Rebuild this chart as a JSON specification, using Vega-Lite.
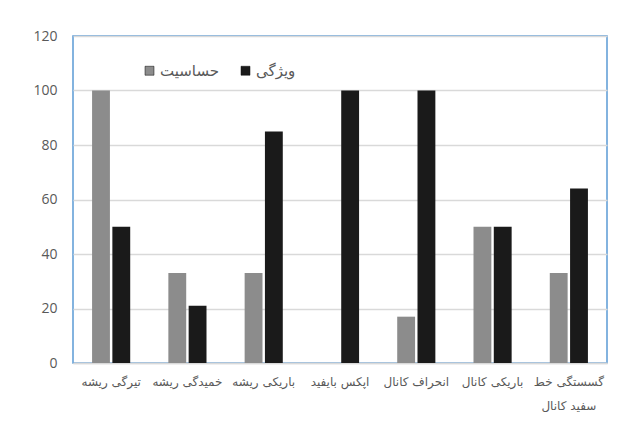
{
  "$schema": "https://vega.github.io/schema/vega-lite/v6.json",
  "autosize": "none",
  "width": 534,
  "height": 327,
  "padding": {"left": 73, "top": 36, "right": 19, "bottom": 58},
  "background": "white",
  "data": {
    "values": [
      {"cat": "تیرگی ریشه", "series": "حساسیت", "value": 100},
      {"cat": "تیرگی ریشه", "series": "ویژگی", "value": 50},
      {"cat": "خمیدگی ریشه", "series": "حساسیت", "value": 33},
      {"cat": "خمیدگی ریشه", "series": "ویژگی", "value": 21},
      {"cat": "باریکی ریشه", "series": "حساسیت", "value": 33},
      {"cat": "باریکی ریشه", "series": "ویژگی", "value": 85},
      {"cat": "اپکس بایفید", "series": "حساسیت", "value": 0},
      {"cat": "اپکس بایفید", "series": "ویژگی", "value": 100},
      {"cat": "انحراف کانال", "series": "حساسیت", "value": 17},
      {"cat": "انحراف کانال", "series": "ویژگی", "value": 100},
      {"cat": "باریکی کانال", "series": "حساسیت", "value": 50},
      {"cat": "باریکی کانال", "series": "ویژگی", "value": 50},
      {"cat": "گسستگی خط سفید کانال", "series": "حساسیت", "value": 33},
      {"cat": "گسستگی خط سفید کانال", "series": "ویژگی", "value": 64}
    ]
  },
  "mark": {"type": "bar"},
  "encoding": {
    "x": {
      "field": "cat",
      "type": "nominal",
      "sort": null,
      "title": null,
      "scale": {"paddingInner": 0.5, "paddingOuter": 0.25},
      "axis": {
        "labelAngle": 0,
        "labelFont": "DejaVu Sans",
        "labelFontSize": 12,
        "labelColor": "#595959",
        "labelPadding": 13,
        "labelLineHeight": 24,
        "labelExpr": "datum.value == 'گسستگی خط سفید کانال' ? ['گسستگی خط', 'سفید کانال'] : datum.value",
        "ticks": false,
        "domainColor": "#d9d9d9",
        "domainWidth": 1.5,
        "grid": false
      }
    },
    "xOffset": {"field": "series", "type": "nominal", "sort": ["حساسیت", "ویژگی"], "scale": {"paddingInner": 0.12}},
    "y": {
      "field": "value",
      "type": "quantitative",
      "title": null,
      "scale": {"domain": [0, 120]},
      "axis": {
        "values": [0, 20, 40, 60, 80, 100, 120],
        "labelFont": "Open Sans",
        "labelFontSize": 14,
        "labelColor": "#595959",
        "labelPadding": 16,
        "ticks": false,
        "domain": false,
        "gridColor": "#d9d9d9",
        "gridWidth": 1.5
      }
    },
    "fill": {
      "field": "series",
      "type": "nominal",
      "sort": ["حساسیت", "ویژگی"],
      "scale": {"domain": ["حساسیت", "ویژگی"], "range": ["#8c8c8c", "#1a1a1a"]},
      "legend": {
        "title": null,
        "orient": "none",
        "legendX": 69,
        "legendY": 27,
        "direction": "horizontal",
        "symbolType": "square",
        "symbolSize": 80,
        "symbolStrokeColor": "#000000",
        "symbolStrokeWidth": 0.5,
        "labelFont": "DejaVu Sans",
        "labelFontSize": 15,
        "labelColor": "#595959",
        "labelOffset": 3,
        "columnPadding": 18
      }
    }
  },
  "config": {
    "view": {"stroke": "#5b9bd5", "strokeWidth": 1.5}
  }
}
